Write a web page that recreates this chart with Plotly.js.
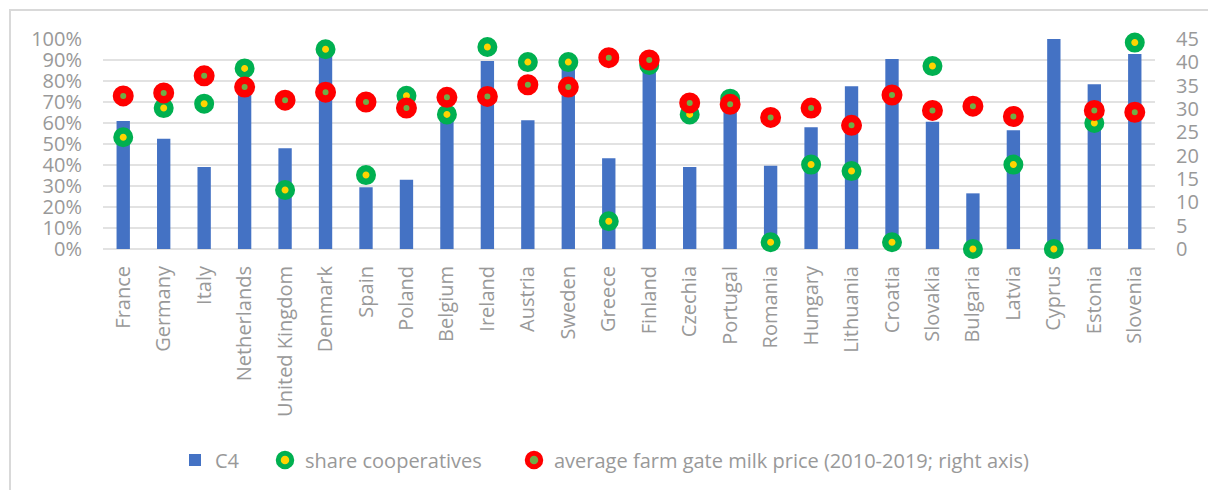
<!DOCTYPE html>
<html>
<head>
<meta charset="utf-8">
<script src="https://cdn.plot.ly/plotly-3.0.1.min.js"></script>
<style>
html,body{margin:0;padding:0;background:#fff;}
#chart{width:1208px;height:490px;}
</style>
</head>
<body>
<div id="chart"></div>
<script>
const countries = ["France","Germany","Italy","Netherlands","United Kingdom","Denmark","Spain","Poland","Belgium","Ireland","Austria","Sweden","Greece","Finland","Czechia","Portugal","Romania","Hungary","Lithuania","Croatia","Slovakia","Bulgaria","Latvia","Cyprus","Estonia","Slovenia"];
const c4 = [0.61,0.525,0.39,0.78,0.48,0.93,0.294,0.33,0.63,0.895,0.613,0.88,0.432,0.88,0.39,0.70,0.397,0.58,0.775,0.905,0.606,0.265,0.565,1.00,0.784,0.929];
const shareCoop = [0.532,0.671,0.692,0.860,0.281,0.951,0.352,0.730,0.641,0.962,0.890,0.890,0.132,0.876,0.641,0.716,0.032,0.402,0.371,0.032,0.871,0.0,0.402,0.0,0.600,0.983];
const milkPrice = [32.8,33.45,37.1,34.7,31.9,33.6,31.5,30.2,32.5,32.7,35.2,34.7,41.0,40.5,31.3,31.0,28.2,30.2,26.5,33.0,29.7,30.6,28.4,null,29.7,29.3];
const leftTicks = [0,0.1,0.2,0.3,0.4,0.5,0.6,0.7,0.8,0.9,1.0];
const rightTicks = [0,5,10,15,20,25,30,35,40,45];

const FONT = "Open Sans, DejaVu Sans, sans-serif";
const GREY = "#999999";
const L = 103, R = 1155, T = 39, B = 249;
const pw = R - L, ph = B - T;
const px = v => (v - L) / pw;
const py = v => (B - v) / ph;

const traces = [
  {type:"bar", x:countries, y:c4, name:"C4", marker:{color:"#4472C4"}, legend:"legend", showlegend:true},
  {type:"scatter", mode:"markers", x:countries, y:shareCoop, name:"share cooperatives", cliponaxis:false, showlegend:true,
   marker:{symbol:"circle", size:13.5, color:"#FFD400", line:{color:"#00B050", width:6.5}}, legend:"legend2"},
  {type:"scatter", mode:"markers", x:countries, y:milkPrice, yaxis:"y2", name:"average farm gate milk price (2010-2019; right axis)", cliponaxis:false, showlegend:true,
   marker:{symbol:"circle", size:13.5, color:"#70AD47", line:{color:"#FF0000", width:7.5}}, legend:"legend3"}
];

const legBase = {orientation:"h", yanchor:"middle", y:py(460), xanchor:"left", bgcolor:"rgba(0,0,0,0)",
  font:{family:FONT, size:20, color:GREY}, borderwidth:0, visible:true};

const layout = {
  width:1208, height:490,
  showlegend:true,
  margin:{l:L, r:1208-R, t:T, b:490-B, pad:0, autoexpand:false},
  paper_bgcolor:"#ffffff", plot_bgcolor:"#ffffff",
  font:{family:FONT, size:20, color:GREY},
  bargap:0.67,
  hovermode:false,
  xaxis:{type:"category", range:[-0.5, countries.length-0.5], autorange:false, automargin:false, tickangle:-90,
    showgrid:false, showline:false, zeroline:false, ticks:"",
    ticklabelstandoff:12, tickfont:{family:FONT, size:20, color:GREY}},
  yaxis:{range:[0,1], autorange:false, automargin:false, tickvals:leftTicks, tickformat:".0%", showgrid:true, gridcolor:"#E2E2E2", gridwidth:2,
    zeroline:true, zerolinecolor:"#E2E2E2", zerolinewidth:2, showline:false, ticks:"",
    ticklabelstandoff:20, tickfont:{family:FONT, size:20, color:GREY}},
  yaxis2:{range:[0,45], autorange:false, automargin:false, tickvals:rightTicks, overlaying:"y", side:"right", showgrid:false, zeroline:false,
    showline:false, ticks:"", ticklabelstandoff:20, tickfont:{family:FONT, size:20, color:GREY}},
  legend:Object.assign({}, legBase, {x:px(175)}),
  legend2:Object.assign({}, legBase, {x:px(265)}),
  legend3:Object.assign({}, legBase, {x:px(514)}),
  shapes:[{type:"rect", xref:"paper", yref:"paper", x0:px(10), x1:px(1230), y0:py(520), y1:py(10),
    line:{color:"#D9D9D9", width:2}, fillcolor:"rgba(0,0,0,0)", layer:"below"}]
};

Plotly.newPlot("chart", traces, layout, {displayModeBar:false, staticPlot:true});
</script>
</body>
</html>
